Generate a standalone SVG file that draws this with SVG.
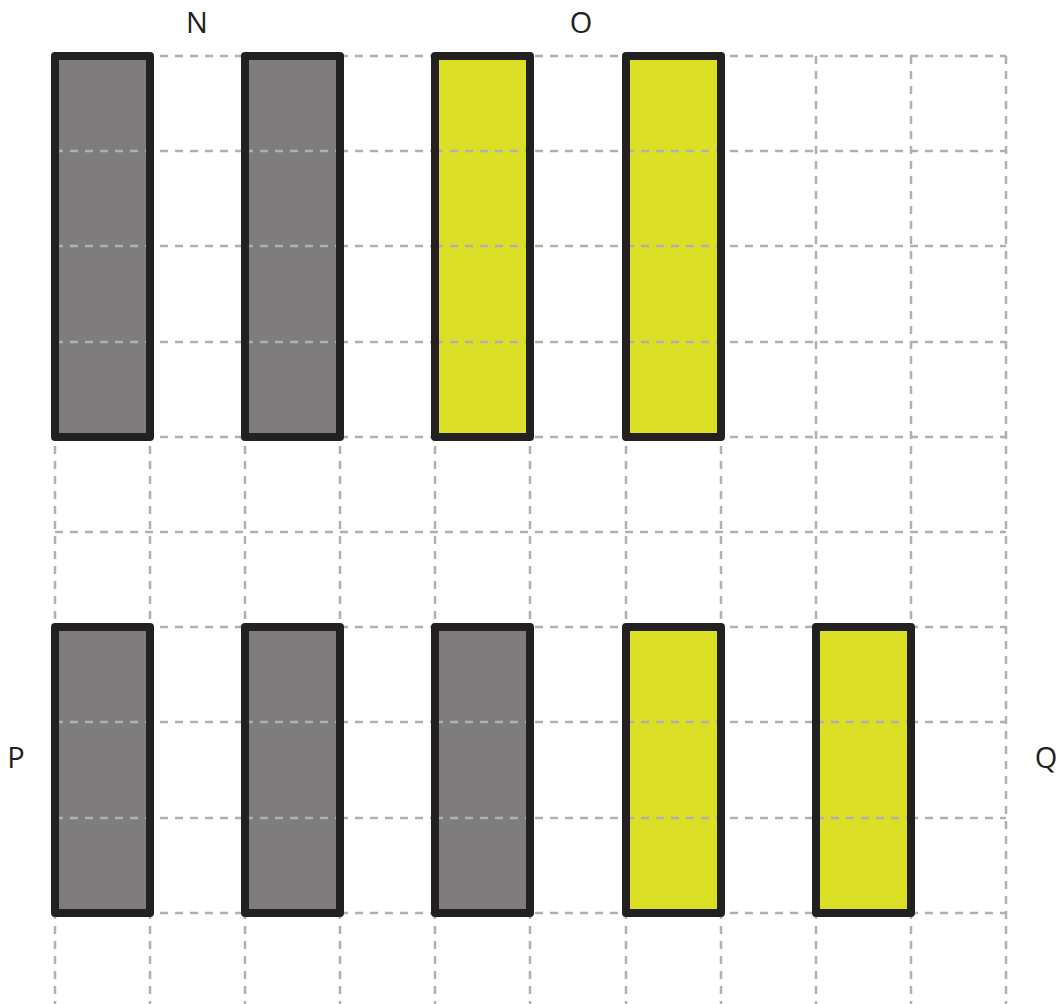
<svg xmlns="http://www.w3.org/2000/svg" width="1059" height="1004" viewBox="0 0 1059 1004">
<style>
.grid line{stroke:#b0b0b0;stroke-width:2.5;stroke-dasharray:8 7;fill:none}
.gl{stroke:#b0b0b0;stroke-width:2.5;stroke-dasharray:8 7;fill:none}
.gray{fill:#7e7c7d}
.yellow{fill:#dbe027}
.outline{fill:none;stroke:#222120;stroke-width:8;stroke-linejoin:round}
.lbl{font-family:"Open Sans","Liberation Sans",sans-serif;font-size:29px;fill:#231f20;text-anchor:middle}
</style>
<rect width="1059" height="1004" fill="#ffffff"/>
<g id="grid" class="grid">
<line x1="55" y1="56" x2="1006" y2="56"/>
<line x1="55" y1="151" x2="1006" y2="151"/>
<line x1="55" y1="246" x2="1006" y2="246"/>
<line x1="55" y1="342" x2="1006" y2="342"/>
<line x1="55" y1="437" x2="1006" y2="437"/>
<line x1="55" y1="532" x2="1006" y2="532"/>
<line x1="55" y1="627" x2="1006" y2="627"/>
<line x1="55" y1="722" x2="1006" y2="722"/>
<line x1="55" y1="818" x2="1006" y2="818"/>
<line x1="55" y1="913" x2="1006" y2="913"/>
<line x1="55" y1="56" x2="55" y2="1004"/>
<line x1="150" y1="56" x2="150" y2="1004"/>
<line x1="245" y1="56" x2="245" y2="1004"/>
<line x1="340" y1="56" x2="340" y2="1004"/>
<line x1="435" y1="56" x2="435" y2="1004"/>
<line x1="530" y1="56" x2="530" y2="1004"/>
<line x1="626" y1="56" x2="626" y2="1004"/>
<line x1="721" y1="56" x2="721" y2="1004"/>
<line x1="816" y1="56" x2="816" y2="1004"/>
<line x1="911" y1="56" x2="911" y2="1004"/>
<line x1="1006" y1="56" x2="1006" y2="1004"/>
</g>
<g id="bar-top-1">
<rect class="gray" x="55" y="56" width="95" height="381"/>
<path class="gl" d="M55 151H150M55 246H150M55 342H150"/>
<rect class="outline" x="55" y="56" width="95" height="381"/>
</g>
<g id="bar-top-2">
<rect class="gray" x="245" y="56" width="95" height="381"/>
<path class="gl" d="M245 151H340M245 246H340M245 342H340"/>
<rect class="outline" x="245" y="56" width="95" height="381"/>
</g>
<g id="bar-top-3">
<rect class="yellow" x="435" y="56" width="95" height="381"/>
<path class="gl" d="M435 151H530M435 246H530M435 342H530"/>
<rect class="outline" x="435" y="56" width="95" height="381"/>
</g>
<g id="bar-top-4">
<rect class="yellow" x="626" y="56" width="95" height="381"/>
<path class="gl" d="M626 151H721M626 246H721M626 342H721"/>
<rect class="outline" x="626" y="56" width="95" height="381"/>
</g>
<g id="bar-bottom-1">
<rect class="gray" x="55" y="627" width="95" height="286"/>
<path class="gl" d="M55 722H150M55 818H150"/>
<rect class="outline" x="55" y="627" width="95" height="286"/>
</g>
<g id="bar-bottom-2">
<rect class="gray" x="245" y="627" width="95" height="286"/>
<path class="gl" d="M245 722H340M245 818H340"/>
<rect class="outline" x="245" y="627" width="95" height="286"/>
</g>
<g id="bar-bottom-3">
<rect class="gray" x="435" y="627" width="95" height="286"/>
<path class="gl" d="M435 722H530M435 818H530"/>
<rect class="outline" x="435" y="627" width="95" height="286"/>
</g>
<g id="bar-bottom-4">
<rect class="yellow" x="626" y="627" width="95" height="286"/>
<path class="gl" d="M626 722H721M626 818H721"/>
<rect class="outline" x="626" y="627" width="95" height="286"/>
</g>
<g id="bar-bottom-5">
<rect class="yellow" x="816" y="627" width="95" height="286"/>
<path class="gl" d="M816 722H911M816 818H911"/>
<rect class="outline" x="816" y="627" width="95" height="286"/>
</g>
<g id="connectors"></g>
<g id="labels">
<text class="lbl" x="197" y="33">N</text>
<text class="lbl" x="581" y="33">O</text>
<text class="lbl" x="16" y="768">P</text>
<text class="lbl" x="1046" y="768">Q</text>
</g>
</svg>
